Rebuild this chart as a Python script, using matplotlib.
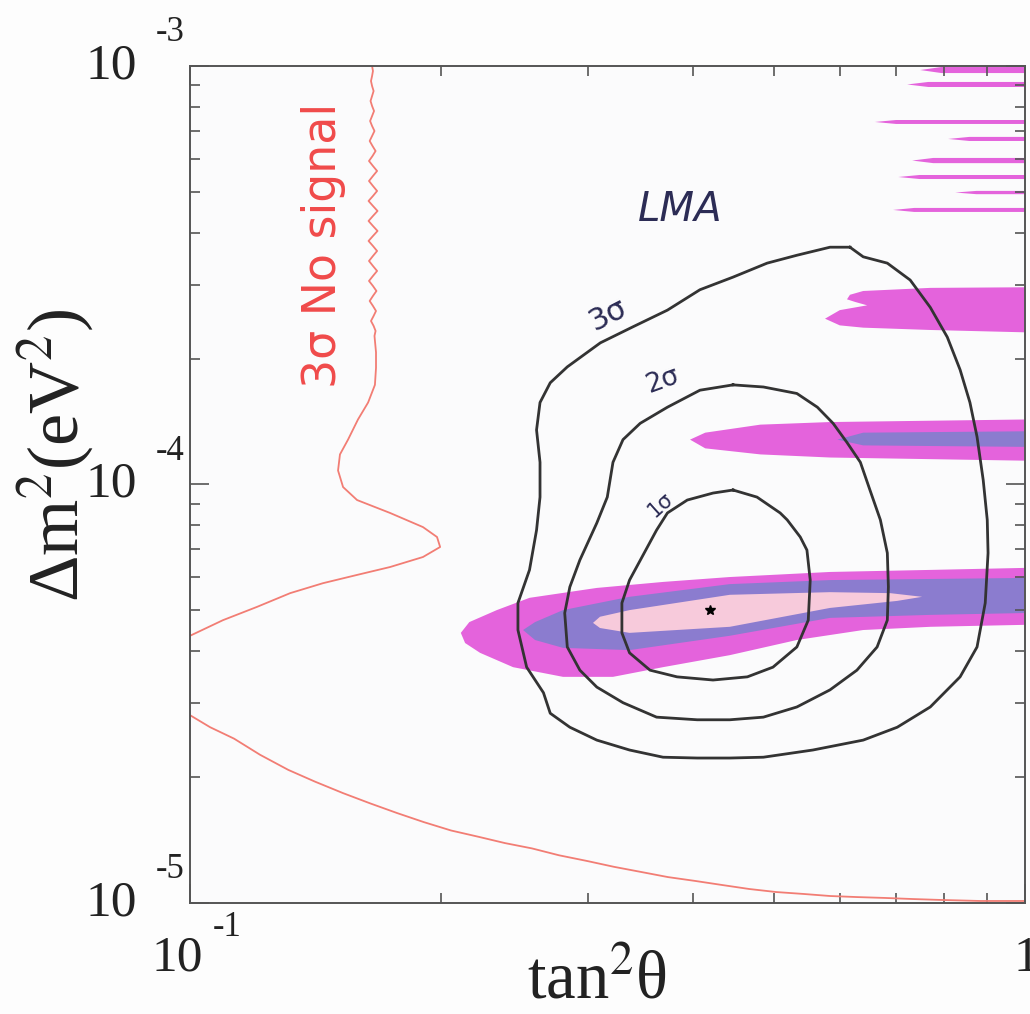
import numpy as np
import matplotlib.pyplot as plt
from matplotlib.ticker import NullFormatter

plt.rcParams['mathtext.fontset'] = 'stix'
plt.rcParams['font.family'] = ['Liberation Serif', 'DejaVu Serif']

# LMA confidence contours: tan^2(theta) and dm^2 (eV^2)
sig3_tan2 = [0.617, 0.584, 0.533, 0.491, 0.447, 0.408, 0.373, 0.339, 0.310, 0.283,
             0.270, 0.2625, 0.260, 0.2625, 0.2625, 0.260, 0.255, 0.247, 0.247, 0.253,
             0.265, 0.270, 0.285, 0.307, 0.336, 0.3685, 0.405, 0.443, 0.486, 0.557,
             0.640, 0.703, 0.770, 0.836, 0.876, 0.896, 0.903, 0.901, 0.891, 0.876,
             0.859, 0.836, 0.807, 0.770, 0.7285, 0.684, 0.640, 0.617]
sig3_dm2 = [3.69e-4, 3.69e-4, 3.53e-4, 3.38e-4, 3.13e-4, 2.92e-4, 2.61e-4, 2.38e-4,
            2.18e-4, 1.91e-4, 1.75e-4, 1.57e-4, 1.35e-4, 1.13e-4, 9.33e-5, 7.78e-5,
            6.25e-5, 5.21e-5, 4.49e-5, 3.66e-5, 3.18e-5, 2.84e-5, 2.63e-5, 2.45e-5,
            2.32e-5, 2.23e-5, 2.22e-5, 2.22e-5, 2.23e-5, 2.32e-5, 2.45e-5, 2.63e-5,
            2.94e-5, 3.47e-5, 4.09e-5, 5.21e-5, 6.86e-5, 8.23e-5, 1.025e-4, 1.30e-4,
            1.57e-4, 1.88e-4, 2.25e-4, 2.65e-4, 3.08e-4, 3.38e-4, 3.50e-4, 3.69e-4]

sig2_tan2 = [0.447, 0.408, 0.373, 0.346, 0.330, 0.321, 0.316, 0.307, 0.293, 0.285,
             0.281, 0.283, 0.293, 0.307, 0.330, 0.362, 0.405, 0.443, 0.486, 0.533,
             0.584, 0.629, 0.665, 0.684, 0.686, 0.684, 0.671, 0.652, 0.635, 0.612,
             0.589, 0.564, 0.533, 0.486, 0.447]
sig2_dm2 = [1.73e-4, 1.68e-4, 1.53e-4, 1.40e-4, 1.28e-4, 1.13e-4, 9.33e-5, 8.09e-5,
            6.60e-5, 5.69e-5, 4.93e-5, 4.09e-5, 3.60e-5, 3.28e-5, 3.01e-5, 2.78e-5,
            2.74e-5, 2.74e-5, 2.78e-5, 2.94e-5, 3.23e-5, 3.60e-5, 4.09e-5, 4.74e-5,
            5.69e-5, 6.86e-5, 8.23e-5, 9.70e-5, 1.13e-4, 1.26e-4, 1.40e-4, 1.53e-4,
            1.65e-4, 1.71e-4, 1.73e-4]

sig1_tan2 = [0.447, 0.423, 0.394, 0.373, 0.362, 0.353, 0.336, 0.329, 0.329, 0.336,
             0.3555, 0.383, 0.423, 0.465, 0.499, 0.533, 0.550, 0.553, 0.548, 0.538,
             0.519, 0.509, 0.4775, 0.447]
sig1_dm2 = [9.70e-5, 9.54e-5, 9.18e-5, 8.55e-5, 7.78e-5, 7.09e-5, 5.91e-5, 5.21e-5,
            4.42e-5, 3.96e-5, 3.60e-5, 3.47e-5, 3.41e-5, 3.47e-5, 3.66e-5, 4.09e-5,
            4.74e-5, 5.91e-5, 6.97e-5, 7.49e-5, 8.23e-5, 8.55e-5, 9.33e-5, 9.70e-5]

best_fit = (0.42, 5.0e-5)

# 3 sigma "no signal" boundary, upper branch (top edge down to the left axis)
nosig_hi_tan2 = [0.1652, 0.1656, 0.1652, 0.1647, 0.1652, 0.1659, 0.1652, 0.1645,
                 0.1652, 0.1661, 0.1652, 0.1643, 0.1652, 0.1663, 0.1652, 0.1641,
                 0.1654, 0.1668, 0.1654, 0.1638, 0.1656, 0.1675, 0.1656, 0.1638,
                 0.1656, 0.1675, 0.1656, 0.1636, 0.1656, 0.1677, 0.1656, 0.1636,
                 0.1656, 0.1677, 0.1656, 0.1636, 0.1656, 0.1675, 0.1656, 0.1638,
                 0.1656, 0.1675, 0.1656, 0.1638, 0.1656, 0.1672, 0.1656, 0.1641,
                 0.1656, 0.1670, 0.1659, 0.1647, 0.1659, 0.1668, 0.1663,
                 0.1670, 0.1670, 0.1665, 0.1634, 0.1589, 0.1546, 0.1512, 0.1504,
                 0.1525, 0.1585, 0.1736, 0.1901, 0.1976, 0.1993, 0.1901, 0.1736,
                 0.1585, 0.1443, 0.1318, 0.1203, 0.1095, 0.100]
nosig_hi_dm2 = [1.000e-3, 9.729e-4, 9.465e-4, 9.208e-4, 8.958e-4, 8.715e-4, 8.479e-4,
                8.249e-4, 8.025e-4, 7.807e-4, 7.595e-4, 7.389e-4, 7.189e-4, 6.994e-4,
                6.804e-4, 6.620e-4, 6.440e-4, 6.265e-4, 6.095e-4, 5.930e-4, 5.769e-4,
                5.613e-4, 5.460e-4, 5.312e-4, 5.168e-4, 5.028e-4, 4.891e-4, 4.759e-4,
                4.630e-4, 4.504e-4, 4.382e-4, 4.263e-4, 4.147e-4, 4.035e-4, 3.925e-4,
                3.819e-4, 3.715e-4, 3.614e-4, 3.516e-4, 3.421e-4, 3.328e-4, 3.238e-4,
                3.150e-4, 3.065e-4, 2.981e-4, 2.900e-4, 2.822e-4, 2.745e-4, 2.671e-4,
                2.598e-4, 2.528e-4, 2.459e-4, 2.393e-4, 2.328e-4, 2.265e-4,
                2.07e-4, 1.90e-4, 1.73e-4, 1.57e-4, 1.43e-4, 1.28e-4, 1.18e-4, 1.08e-4,
                9.86e-5, 9.18e-5, 8.55e-5, 7.91e-5, 7.49e-5, 7.09e-5, 6.71e-5, 6.35e-5,
                6.08e-5, 5.81e-5, 5.50e-5, 5.10e-5, 4.74e-5, 4.35e-5]

# lower branch
nosig_lo_tan2 = [0.100, 0.1057, 0.1129, 0.1213, 0.1311, 0.1411, 0.1525, 0.1643, 0.1770,
                 0.1906, 0.2054, 0.2213, 0.2384, 0.2568, 0.2766, 0.2988, 0.3219, 0.3469,
                 0.3736, 0.4025, 0.4336, 0.4672, 0.5034, 0.5423, 0.5842, 0.6293, 0.6799,
                 0.7325, 0.789, 0.8835, 1.0]
nosig_lo_dm2 = [2.81e-5, 2.63e-5, 2.47e-5, 2.26e-5, 2.08e-5, 1.95e-5, 1.83e-5, 1.73e-5,
                1.64e-5, 1.56e-5, 1.49e-5, 1.44e-5, 1.39e-5, 1.35e-5, 1.30e-5, 1.26e-5,
                1.22e-5, 1.186e-5, 1.153e-5, 1.129e-5, 1.104e-5, 1.080e-5, 1.062e-5,
                1.051e-5, 1.039e-5, 1.033e-5, 1.028e-5, 1.022e-5, 1.017e-5, 1.011e-5,
                1.011e-5]

# allowed regions: main island
isl_mag_tan2 = [1.0, 0.770, 0.584, 0.443, 0.3685, 0.307, 0.255, 0.233, 0.216, 0.211,
                0.2135, 0.2225, 0.2437, 0.2797, 0.321, 0.3685, 0.443, 0.533, 0.640,
                0.770, 1.0]
isl_mag_dm2 = [6.32e-5, 6.25e-5, 6.18e-5, 6.01e-5, 5.85e-5, 5.66e-5, 5.36e-5, 5.01e-5,
               4.69e-5, 4.42e-5, 4.18e-5, 3.96e-5, 3.66e-5, 3.47e-5, 3.47e-5, 3.66e-5,
               3.91e-5, 4.25e-5, 4.49e-5, 4.57e-5, 4.62e-5]
isl_blue_tan2 = [1.0, 0.584, 0.443, 0.336, 0.2797, 0.2589, 0.2505, 0.2589, 0.2797,
                 0.336, 0.443, 0.584, 0.770, 1.0]
isl_blue_dm2 = [5.98e-5, 5.91e-5, 5.78e-5, 5.39e-5, 5.01e-5, 4.69e-5, 4.49e-5, 4.25e-5,
                4.07e-5, 4.02e-5, 4.35e-5, 4.80e-5, 4.88e-5, 4.93e-5]
isl_pink_tan2 = [0.7529, 0.6894, 0.584, 0.443, 0.336, 0.3097, 0.3038, 0.3097, 0.336,
                 0.443, 0.584, 0.7028, 0.7529]
isl_pink_dm2 = [5.39e-5, 5.50e-5, 5.53e-5, 5.45e-5, 5.01e-5, 4.83e-5, 4.67e-5, 4.54e-5,
                4.42e-5, 4.57e-5, 5.07e-5, 5.27e-5, 5.39e-5]

# band near 1.3e-4
mid_mag_tan2 = [1.0, 0.584, 0.482, 0.414, 0.397, 0.414, 0.482, 0.584, 1.0]
mid_mag_dm2 = [1.43e-4, 1.41e-4, 1.39e-4, 1.33e-4, 1.28e-4, 1.22e-4, 1.18e-4, 1.16e-4, 1.14e-4]
mid_blue_tan2 = [1.0, 0.640, 0.596, 0.640, 1.0]
mid_blue_dm2 = [1.34e-4, 1.33e-4, 1.28e-4, 1.24e-4, 1.23e-4]

# band near 2.6e-4
up_mag_tan2 = [1.0, 0.770, 0.640, 0.617, 0.612, 0.626, 0.647, 0.600, 0.576, 0.600,
               0.640, 0.770, 1.0]
up_mag_dm2 = [2.96e-4, 2.95e-4, 2.90e-4, 2.84e-4, 2.77e-4, 2.73e-4, 2.68e-4, 2.61e-4,
              2.49e-4, 2.40e-4, 2.37e-4, 2.34e-4, 2.31e-4]

# thin high-dm2 stripes: left end, upper and lower dm2
stripe_left = [0.749, 0.7225, 0.661, 0.809, 0.7325, 0.705, 0.825, 0.695]
stripe_hi = [9.945e-4, 9.16e-4, 7.43e-4, 6.77e-4, 6.03e-4, 5.49e-4, 5.03e-4, 4.58e-4]
stripe_lo = [9.62e-4, 8.91e-4, 7.27e-4, 6.62e-4, 5.86e-4, 5.37e-4, 4.94e-4, 4.48e-4]

ytick_vals = [1e-5, 1e-4, 1e-3]
ytick_exps = ['-5', '-4', '-3']

MAGENTA = '#e463dc'
BLUE = '#8b7ccf'
PINK = '#f7cadb'
CONTOUR = '#333333'
RED = '#f27d74'
INK = '#2c2c55'

fig = plt.figure(figsize=(10.30, 10.14), dpi=100, facecolor='#fdfdfd')
ax = fig.add_axes([0.1845, 0.1095, 0.8107, 0.8254])
ax.set_facecolor('#fbfbfc')
ax.set_xscale('log')
ax.set_yscale('log')
ax.set_xlim(0.1, 1.0)
ax.set_ylim(1e-5, 1e-3)

# filled allowed regions
for xs, ys, c in [(isl_mag_tan2, isl_mag_dm2, MAGENTA),
                  (isl_blue_tan2, isl_blue_dm2, BLUE),
                  (isl_pink_tan2, isl_pink_dm2, PINK),
                  (mid_mag_tan2, mid_mag_dm2, MAGENTA),
                  (mid_blue_tan2, mid_blue_dm2, BLUE),
                  (up_mag_tan2, up_mag_dm2, MAGENTA)]:
    ax.fill(xs, ys, color=c, lw=0, zorder=1)

for left, hi, lo in zip(stripe_left, stripe_hi, stripe_lo):
    mid = np.sqrt(hi * lo)
    ax.fill([left, left * 1.06, 1.0, 1.0, left * 1.06], [mid, hi, hi, lo, lo],
            color=MAGENTA, lw=0, zorder=1)

# LMA contours
for xs, ys in [(sig3_tan2, sig3_dm2), (sig2_tan2, sig2_dm2), (sig1_tan2, sig1_dm2)]:
    ax.plot(xs, ys, color=CONTOUR, lw=2.0, zorder=3, solid_joinstyle='round')
ax.plot(*best_fit, marker='*', color='black', ms=7, zorder=4)

# no-signal boundary
ax.plot(nosig_hi_tan2, nosig_hi_dm2, color=RED, lw=1.3, zorder=2, solid_joinstyle='round')
ax.plot(nosig_lo_tan2, nosig_lo_dm2, color=RED, lw=1.3, zorder=2)

ax.text(0.1443, 3.72e-4, '3σ No signal', rotation=90, ha='center', va='center',
        color='#f04a4a', fontsize=33, family='DejaVu Sans')
ax.text(0.386, 4.53e-4, 'LMA', ha='center', va='center', color=INK, fontsize=29,
        family='DejaVu Sans', style='italic')
ax.text(0.3167, 2.54e-4, '3σ', rotation=27, ha='center', va='center', color=INK,
        fontsize=22, family='DejaVu Sans')
ax.text(0.3675, 1.77e-4, '2σ', rotation=20, ha='center', va='center', color=INK,
        fontsize=19, family='DejaVu Sans')
ax.text(0.3655, 8.93e-5, '1σ', rotation=42, ha='center', va='center', color=INK,
        fontsize=15, family='DejaVu Sans')

# frame and ticks
for s in ax.spines.values():
    s.set_color('#555555')
    s.set_linewidth(1.4)
ax.tick_params(which='both', direction='in', top=True, right=True, color='#555555')
ax.tick_params(which='major', length=14, width=1.2)
ax.tick_params(which='minor', length=7, width=1.2)
for axis in (ax.xaxis, ax.yaxis):
    axis.set_major_formatter(NullFormatter())
    axis.set_minor_formatter(NullFormatter())

ytr = ax.get_yaxis_transform()
for val, ex in zip(ytick_vals, ytick_exps):
    ax.annotate('10', xy=(0, val), xycoords=ytr, xytext=(-57, 0),
                textcoords='offset points', ha='center', va='center',
                fontsize=37, color='#222222', annotation_clip=False)
    ax.annotate(ex, xy=(0, val), xycoords=ytr, xytext=(-14, 24),
                textcoords='offset points', ha='center', va='center',
                fontsize=25, color='#222222', annotation_clip=False)

xtr = ax.get_xaxis_transform()
ax.annotate('10', xy=(0.1, 0), xycoords=xtr, xytext=(-9, -40),
            textcoords='offset points', ha='center', va='center',
            fontsize=37, color='#222222', annotation_clip=False)
ax.annotate('-1', xy=(0.1, 0), xycoords=xtr, xytext=(27, -18),
            textcoords='offset points', ha='center', va='center',
            fontsize=25, color='#222222', annotation_clip=False)
ax.annotate('1', xy=(1.0, 0), xycoords=xtr, xytext=(1, -40),
            textcoords='offset points', ha='center', va='center',
            fontsize=37, color='#222222', annotation_clip=False)

fig.text(56 / 1030, 1 - 455 / 1014, 'Δm$^{2}$(eV$^{2}$)', rotation=90,
         ha='center', va='center', fontsize=52, color='#222222')
fig.text(597 / 1030, 1 - 982 / 1014, 'tan$^{2}$θ', ha='center', va='center',
         fontsize=48, color='#222222')

fig.savefig('out.png', dpi=100, facecolor=fig.get_facecolor())
